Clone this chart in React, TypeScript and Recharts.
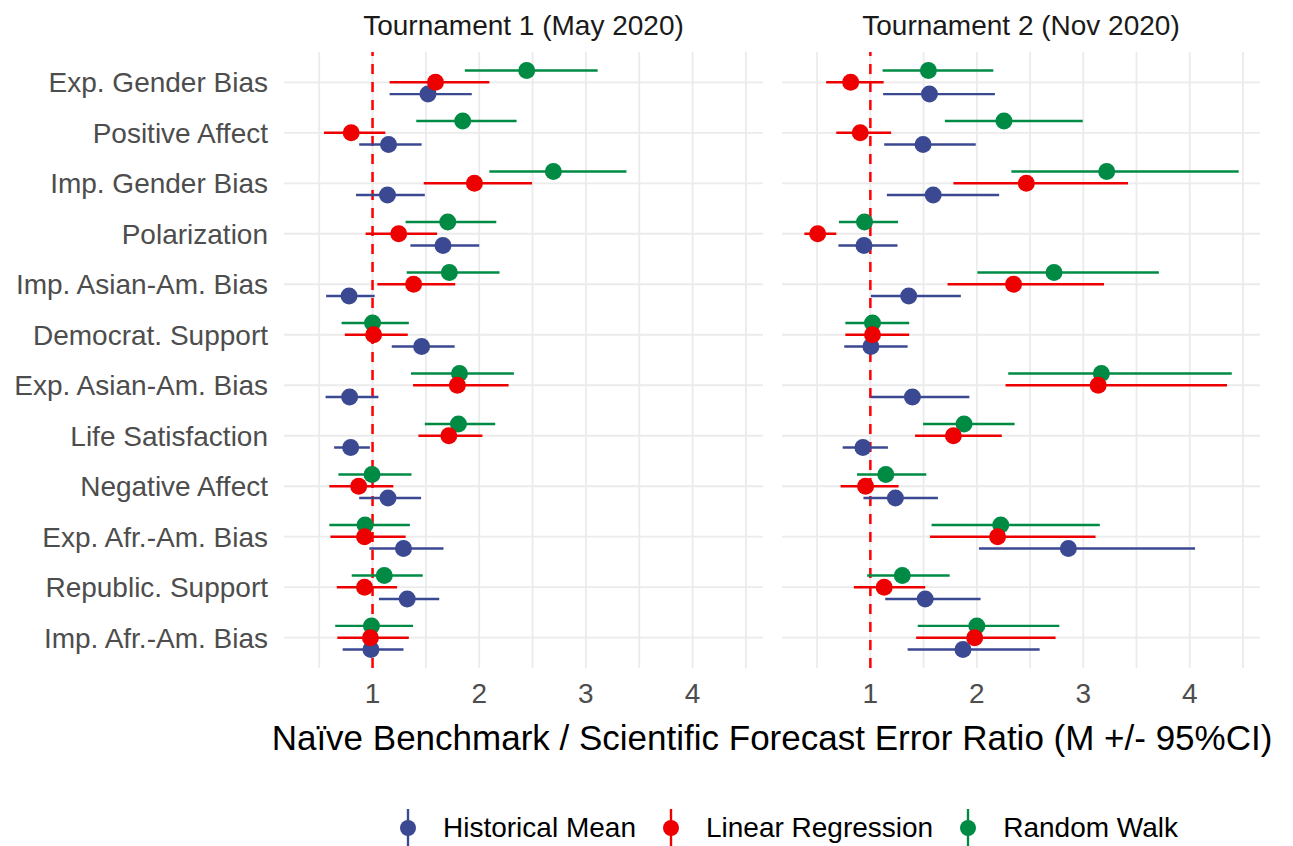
import React from 'react';
import { ScatterChart, Scatter, XAxis, YAxis, CartesianGrid, ErrorBar, ReferenceLine } from 'recharts';

const FONT = '"Liberation Sans", Arial, sans-serif';

// rows from top to bottom
const categories = [
  'Exp. Gender Bias',
  'Positive Affect',
  'Imp. Gender Bias',
  'Polarization',
  'Imp. Asian-Am. Bias',
  'Democrat. Support',
  'Exp. Asian-Am. Bias',
  'Life Satisfaction',
  'Negative Affect',
  'Exp. Afr.-Am. Bias',
  'Republic. Support',
  'Imp. Afr.-Am. Bias',
];

const xTicks = [0.5, 1, 1.5, 2, 2.5, 3, 3.5, 4, 4.5];
const yTicks = [0, 1, 2, 3, 4, 5, 6, 7, 8, 9, 10, 11];

type Est = [number, number, number]; // mean, lower, upper

// Tournament 1 (May 2020)
const t1Historical: Est[] = [
  [1.52, 1.16, 1.93], [1.15, 0.875, 1.46], [1.14, 0.845, 1.49], [1.66, 1.355, 2.0],
  [0.78, 0.565, 1.02], [1.46, 1.18, 1.77], [0.785, 0.56, 1.055], [0.795, 0.64, 0.975],
  [1.145, 0.875, 1.455], [1.29, 0.97, 1.665], [1.325, 1.06, 1.625], [0.985, 0.72, 1.29],
];
const t1Linear: Est[] = [
  [1.59, 1.16, 2.095], [0.8, 0.545, 1.12], [1.955, 1.48, 2.495], [1.245, 0.935, 1.605],
  [1.385, 1.045, 1.775], [1.01, 0.74, 1.33], [1.795, 1.38, 2.275], [1.715, 1.43, 2.03],
  [0.87, 0.595, 1.195], [0.925, 0.605, 1.31], [0.925, 0.665, 1.23], [0.98, 0.67, 1.34],
];
const t1Random: Est[] = [
  [2.445, 1.865, 3.11], [1.845, 1.41, 2.35], [2.695, 2.095, 3.38], [1.705, 1.31, 2.16],
  [1.72, 1.32, 2.19], [1.0, 0.71, 1.34], [1.815, 1.36, 2.325], [1.805, 1.49, 2.15],
  [0.995, 0.68, 1.365], [0.93, 0.595, 1.35], [1.11, 0.805, 1.47], [0.99, 0.65, 1.38],
];

// Tournament 2 (Nov 2020)
const t2Historical: Est[] = [
  [1.555, 1.12, 2.17], [1.495, 1.13, 1.99], [1.59, 1.155, 2.21], [0.94, 0.7, 1.255],
  [1.36, 1.005, 1.85], [1.005, 0.755, 1.35], [1.395, 1.005, 1.93], [0.93, 0.74, 1.165],
  [1.235, 0.935, 1.635], [2.86, 2.02, 4.05], [1.515, 1.14, 2.035], [1.87, 1.35, 2.59],
];
const t2Linear: Est[] = [
  [0.815, 0.585, 1.125], [0.905, 0.68, 1.195], [2.465, 1.78, 3.42], [0.505, 0.38, 0.68],
  [2.345, 1.725, 3.195], [1.02, 0.765, 1.365], [3.14, 2.27, 4.35], [1.78, 1.42, 2.235],
  [0.955, 0.72, 1.265], [2.195, 1.56, 3.115], [1.13, 0.845, 1.515], [1.98, 1.43, 2.74],
];
const t2Random: Est[] = [
  [1.545, 1.115, 2.155], [2.255, 1.7, 2.995], [3.22, 2.325, 4.46], [0.945, 0.705, 1.26],
  [2.725, 2.005, 3.71], [1.02, 0.765, 1.365], [3.17, 2.295, 4.395], [1.88, 1.495, 2.355],
  [1.145, 0.875, 1.525], [2.225, 1.575, 3.155], [1.3, 0.97, 1.745], [2.0, 1.445, 2.775],
];

const BLUE = '#3B4992';
const RED = '#EE0000';
const GREEN = '#008B45';
const DODGE = 0.7 / 3;

const toRows = (vals: Est[], offset: number) =>
  vals.map(([m, lo, hi], i) => ({ name: categories[i], x: m, y: i + offset, err: [m - lo, hi - m] }));

const Dot = (color: string) => (p: any) => <circle cx={p.cx} cy={p.cy} r={8.5} fill={color} />;

interface PanelProps {
  historical: Est[];
  linear: Est[];
  random: Est[];
  showY: boolean;
  width: number;
  margin: { top: number; right: number; bottom: number; left: number };
}

const Panel: React.FC<PanelProps> = ({ historical, linear, random, showY, width, margin }) => {
  // draw order: blue, green, red (red ends up on top)
  const series = [
    { key: 'hist', color: BLUE, data: toRows(historical, DODGE) },
    { key: 'rw', color: GREEN, data: toRows(random, -DODGE) },
    { key: 'lr', color: RED, data: toRows(linear, 0) },
  ];
  return (
    <ScatterChart width={width} height={720} margin={margin}>
      <CartesianGrid stroke="#EBEBEB" strokeWidth={1.8} syncWithTicks />
      <XAxis
        type="number"
        dataKey="x"
        domain={[0.17, 4.66]}
        allowDataOverflow
        ticks={xTicks}
        interval={0}
        tickFormatter={(v: number) => (Number.isInteger(v) ? String(v) : '')}
        axisLine={false}
        tickLine={false}
        tickSize={0}
        tickMargin={15}
        height={40}
        tick={{ fill: '#4D4D4D', fontSize: 28, fontFamily: FONT }}
      />
      <YAxis
        type="number"
        dataKey="y"
        domain={[-0.6, 11.6]}
        reversed
        ticks={yTicks}
        interval={0}
        hide={!showY}
        width={showY ? 284 : 0}
        tickFormatter={(v: number) => categories[v] ?? ''}
        axisLine={false}
        tickLine={false}
        tickSize={0}
        tickMargin={16}
        tick={{ fill: '#4D4D4D', fontSize: 28, fontFamily: FONT }}
      />
      <ReferenceLine x={1} stroke="#FF0000" strokeWidth={2.5} strokeDasharray="10 8" />
      {series.map((s) => (
        <Scatter key={s.key} data={s.data} fill={s.color} shape={Dot(s.color)} isAnimationActive={false}>
          <ErrorBar dataKey="err" direction="x" width={0} stroke={s.color} strokeWidth={2.4} isAnimationActive={false} />
        </Scatter>
      ))}
    </ScatterChart>
  );
};

const legendItems = [
  { label: 'Historical Mean', color: BLUE },
  { label: 'Linear Regression', color: RED },
  { label: 'Random Walk', color: GREEN },
];

const LegendKey = ({ color }: { color: string }) => (
  <svg width={16} height={38} style={{ display: 'block' }}>
    <line x1={8} y1={0} x2={8} y2={38} stroke={color} strokeWidth={2.4} />
    <circle cx={8} cy={19} r={8} fill={color} />
  </svg>
);

export default function App() {
  return (
    <div
      style={{
        position: 'absolute',
        left: 0,
        top: 0,
        width: 1293,
        height: 846,
        background: '#fff',
        fontFamily: FONT,
        overflow: 'hidden',
      }}
    >
      <div style={{ position: 'absolute', left: 0, top: 0 }}>
        <Panel
          historical={t1Historical}
          linear={t1Linear}
          random={t1Random}
          showY
          width={770}
          margin={{ top: 52, right: 7, bottom: 12, left: 0 }}
        />
      </div>
      <div style={{ position: 'absolute', left: 775, top: 0 }}>
        <Panel
          historical={t2Historical}
          linear={t2Linear}
          random={t2Random}
          showY={false}
          width={518}
          margin={{ top: 52, right: 33, bottom: 12, left: 7 }}
        />
      </div>

      {/* facet strips */}
      <div style={{ position: 'absolute', left: 284, width: 479, top: 12, textAlign: 'center', fontSize: 28, lineHeight: '28px', color: '#1A1A1A' }}>
        Tournament 1 (May 2020)
      </div>
      <div style={{ position: 'absolute', left: 782, width: 478, top: 12, textAlign: 'center', fontSize: 28, lineHeight: '28px', color: '#1A1A1A' }}>
        Tournament 2 (Nov 2020)
      </div>

      {/* x axis title */}
      <div style={{ position: 'absolute', left: 222, width: 1100, top: 720, textAlign: 'center', fontSize: 35, lineHeight: '35px', color: '#000', whiteSpace: 'nowrap' }}>
        Naïve Benchmark / Scientific Forecast Error Ratio (M +/- 95%CI)
      </div>

      {/* legend */}
      <div style={{ position: 'absolute', left: 400, top: 809, height: 38, display: 'flex', alignItems: 'center' }}>
        {legendItems.map((it) => (
          <div key={it.label} style={{ display: 'flex', alignItems: 'center', marginRight: 27 }}>
            <LegendKey color={it.color} />
            <span style={{ marginLeft: 27, fontSize: 28, lineHeight: '28px', color: '#000', whiteSpace: 'nowrap' }}>{it.label}</span>
          </div>
        ))}
      </div>
    </div>
  );
}
